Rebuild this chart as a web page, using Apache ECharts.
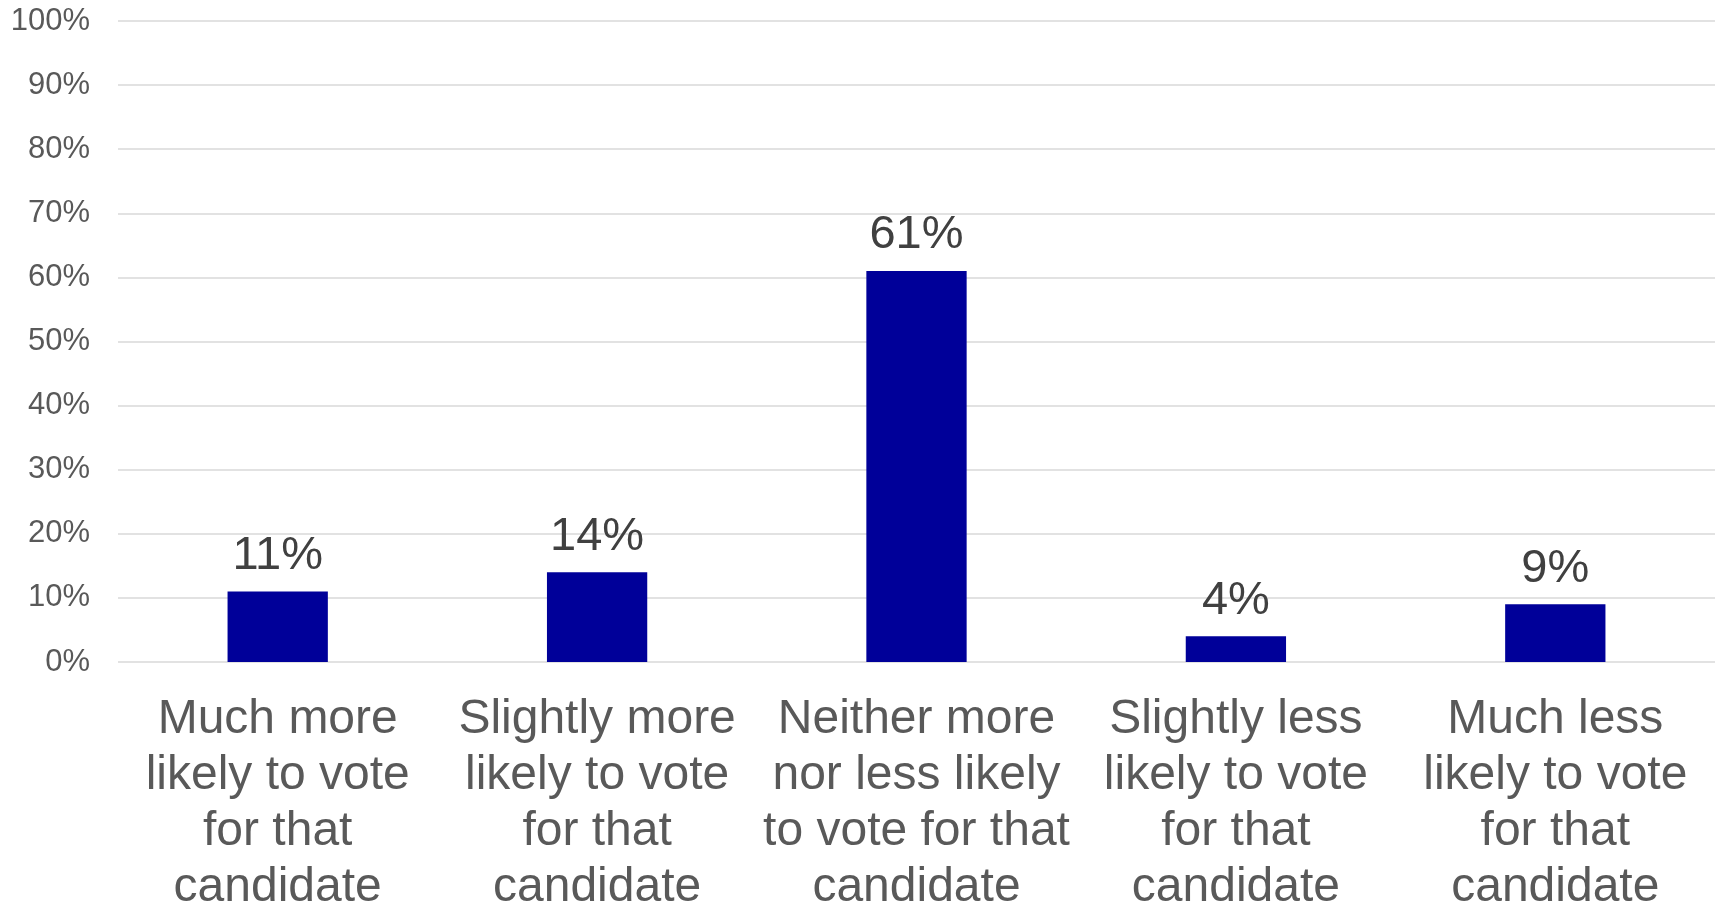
<!DOCTYPE html>
<html>
<head>
<meta charset="utf-8">
<script src="https://cdn.jsdelivr.net/npm/echarts@6/dist/echarts.min.js"></script>
<style>
html,body{margin:0;padding:0;background:#fff;}
#chart{width:1723px;height:903px;}
</style>
</head>
<body>
<div id="chart"></div>
<script>
const categories = [
  "Much more\nlikely to vote\nfor that\ncandidate",
  "Slightly more\nlikely to vote\nfor that\ncandidate",
  "Neither more\nnor less likely\nto vote for that\ncandidate",
  "Slightly less\nlikely to vote\nfor that\ncandidate",
  "Much less\nlikely to vote\nfor that\ncandidate"
];
const values = [11, 14, 61, 4, 9];
const yMin = 0, yMax = 100, yStep = 10;

const chart = echarts.init(document.getElementById('chart'), null, {renderer: 'canvas'});
chart.setOption({
  animation: false,
  backgroundColor: '#ffffff',
  textStyle: {fontFamily: 'Liberation Sans, Arial, sans-serif'},
  grid: {left: 118, right: 8, top: 21, bottom: 241, containLabel: false, outerBoundsMode: 'none'},
  xAxis: {
    type: 'category',
    data: categories,
    axisLine: {show: false},
    axisTick: {show: false},
    axisLabel: {
      interval: 0,
      fontSize: 48,
      lineHeight: 56,
      color: '#595959',
      margin: 30,
      fontFamily: 'Liberation Sans, Arial, sans-serif'
    }
  },
  yAxis: {
    type: 'value',
    min: yMin, max: yMax, interval: yStep,
    axisLine: {show: false},
    axisTick: {show: false},
    splitLine: {lineStyle: {color: '#d9d9d9', width: 1.5}},
    axisLabel: {
      formatter: '{value}%',
      fontSize: 31,
      color: '#595959',
      margin: 28,
      fontFamily: 'Liberation Sans, Arial, sans-serif'
    }
  },
  series: [{
    type: 'bar',
    data: values,
    barWidth: '31.4%',
    itemStyle: {color: '#000099'},
    label: {
      show: true,
      position: 'top',
      formatter: '{c}%',
      fontSize: 47,
      color: '#404040',
      distance: 12,
      fontFamily: 'Liberation Sans, Arial, sans-serif'
    }
  }]
});
</script>
</body>
</html>
